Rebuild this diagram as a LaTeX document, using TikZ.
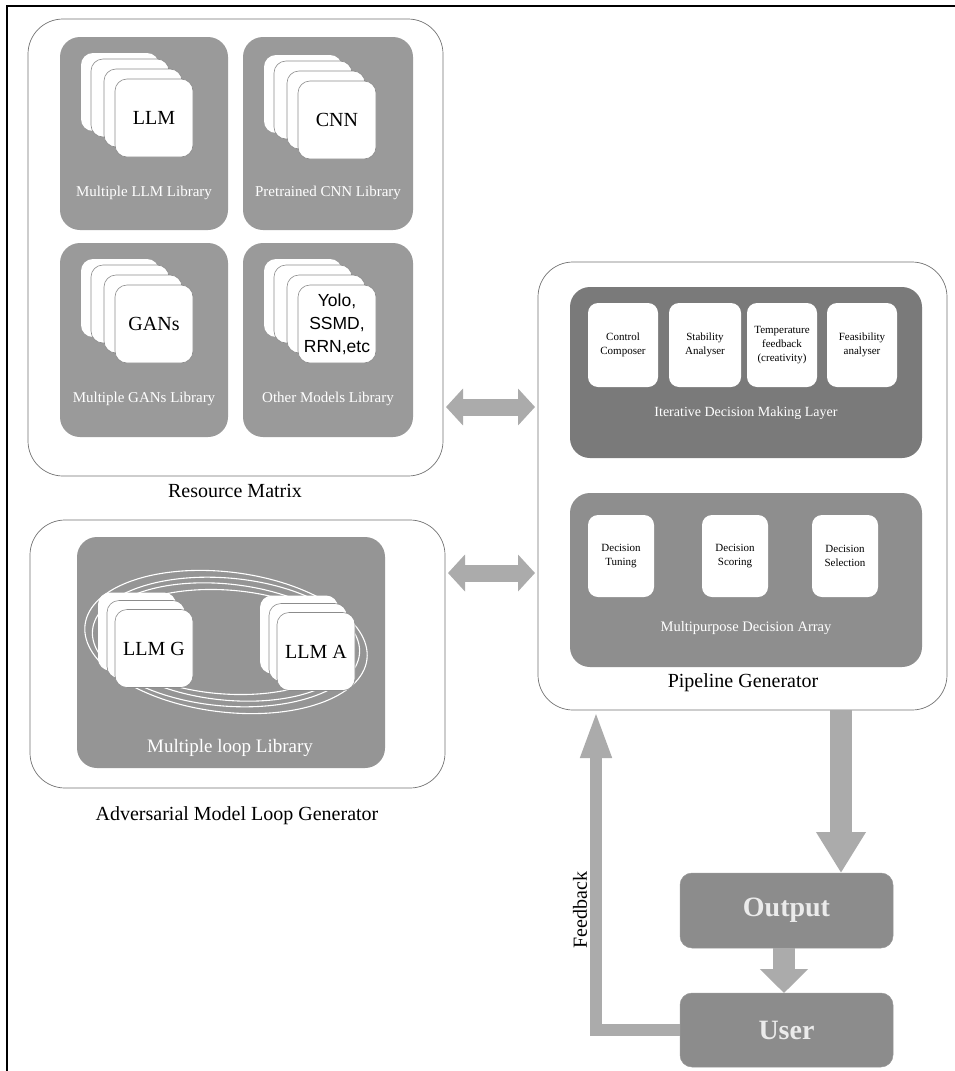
\documentclass[tikz,border=0pt]{standalone}
\usepackage{fontspec}
\setmainfont{Liberation Serif}
\newfontfamily\yolofont{Liberation Sans}
\usetikzlibrary{arrows.meta,calc}
\definecolor{libgray}{HTML}{9A9A9A}
\definecolor{idlgray}{HTML}{7A7A7A}
\definecolor{mdagray}{HTML}{8E8E8E}
\definecolor{advgray}{HTML}{959595}
\definecolor{boxgray}{HTML}{8C8C8C}
\definecolor{arrgray}{HTML}{ABABAB}
\newcommand\fsz[2]{\fontsize{#1}{#2}\selectfont}
\newcommand\cardstack[5]{%
  \node[card, draw=none] (#1-3) at ({#2-34},{#3-26}) {};
  \node[card] (#1-2) at ({#2-24},{#3-20}) {};
  \node[card] (#1-1) at ({#2-11},{#3-10}) {};
  \node[card, font=#5] (#1) at (#2,#3) {#4};
}
\newcommand\advstack[4]{%
  \node[card, draw=none] (#1-2) at ({#2-17},{#3-17}) {};
  \node[card] (#1-1) at ({#2-8},{#3-9}) {};
  \node[card, font=\fsz{20}{24}] (#1) at (#2,#3) {#4};
}
\begin{document}
\begin{tikzpicture}[x=1pt,y=-1pt,
  every node/.style={inner sep=0pt, outer sep=0pt},
  outerbox/.style={draw=black!55, line width=0.7pt, fill=white, rounded corners=35pt},
  libbox/.style={fill=libgray, rounded corners=20pt},
  card/.style={fill=white, draw=black!45, line width=0.6pt, rounded corners=12pt,
    minimum width=78pt, minimum height=78pt, align=center},
  liblabel/.style={text=white, font=\fsz{15}{18}},
  biglabel/.style={text=black, font=\fsz{20}{24}},
  pbox/.style={fill=white, rounded corners=10pt, align=center, font=\fsz{11}{14}},
  obox/.style={fill=boxgray, draw=black!40, line width=0.5pt, rounded corners=12pt,
    minimum width=213pt, text=white!92!black, font=\bfseries\fsz{28}{32}},
  dblarr/.style={draw=arrgray, line width=17pt,
    {Triangle[length=17pt 0, width=36pt 0]}-{Triangle[length=17pt 0, width=36pt 0]},
    shorten <=3pt, shorten >=3pt},
  fatarr/.style={draw=arrgray, line width=22pt, -{Triangle[length=#1 0, width=47pt 0]}},
  fbarr/.style={draw=arrgray, line width=12pt, line join=miter,
    -{Triangle[length=48pt 0, width=28pt 0]}},
  loopline/.style={draw=white, line width=1.1pt}
]
\useasboundingbox (0,0) rectangle (955,1071);
\fill[white] (0,0) rectangle (955,1071);
\draw[line width=1.3pt] (7,1071) -- (7,6) -- (955,6);

% ---------------- Resource Matrix ----------------
\node[outerbox, minimum width=415pt, minimum height=457pt] (rm) at (235.5,247.5) {};
\node[libbox, minimum width=168pt, minimum height=193pt] (llmlib) at (144,133.5) {};
\node[libbox, minimum width=170pt, minimum height=193pt] (cnnlib) at (328,133.5) {};
\node[libbox, minimum width=168pt, minimum height=194pt] (ganlib) at (144,340) {};
\node[libbox, minimum width=170pt, minimum height=194pt] (othlib) at (328,340) {};
\cardstack{llm}{154}{118}{LLM}{\fsz{20}{24}}
\cardstack{cnn}{337}{120}{CNN}{\fsz{20}{24}}
\cardstack{gan}{154}{324}{GANs}{\fsz{20}{24}}
\cardstack{oth}{337}{324}{Yolo,\\SSMD,\\RRN,etc}{\yolofont\fsz{17.5}{23}}
\node[liblabel] (llmlab) at (144,193) {Multiple LLM Library};
\node[liblabel] (cnnlab) at (328,193) {Pretrained CNN Library};
\node[liblabel] (ganlab) at (144,399) {Multiple GANs Library};
\node[liblabel] (othlab) at (328,399) {Other Models Library};
\node[biglabel] (rmlab) at (235,491) {Resource Matrix};

% ---------------- Adversarial Model Loop Generator ----------------
\node[outerbox, minimum width=415pt, minimum height=268pt] (amlg) at (237.5,654) {};
\node[libbox, fill=advgray, minimum width=308pt, minimum height=231pt] (mll) at (231,652.5) {};
\foreach \rx/\ry/\rot in {118/52/-4, 126/58/-6, 134/64/-5, 142/70/-7}
  \draw[loopline, rotate around={\rot:(226,642)}] (226,642) ellipse ({\rx} and {\ry});
\advstack{llmg}{154}{648.5}{LLM G}
\advstack{llma}{316}{651.5}{LLM A}
\node[liblabel, font=\fsz{19}{22}] (mlllab) at (230,748) {Multiple loop Library};
\node[biglabel] (amlglab) at (237,816) {Adversarial Model Loop Generator};

% ---------------- Pipeline Generator ----------------
\node[outerbox, minimum width=409pt, minimum height=448pt] (pg) at (742.5,486) {};
\node[libbox, fill=idlgray, minimum width=352pt, minimum height=171pt] (idl) at (746,372.5) {};
\node[pbox, minimum width=70pt, minimum height=84pt] (cc) at (623,345) {Control\\Composer};
\node[pbox, minimum width=72pt, minimum height=84pt] (sa) at (705,345) {Stability\\Analyser};
\node[pbox, minimum width=70pt, minimum height=84pt] (tf) at (782,345) {Temperature\\feedback\\(creativity)};
\node[pbox, minimum width=70pt, minimum height=84pt] (fa) at (862,345) {Feasibility\\analyser};
\node[liblabel, font=\fsz{14}{17}] (idllab) at (746,413) {Iterative Decision Making Layer};
\node[libbox, fill=mdagray, minimum width=352pt, minimum height=174pt] (mda) at (746,580) {};
\node[pbox, minimum width=66pt, minimum height=82pt] (dt) at (621,556) {Decision\\Tuning};
\node[pbox, minimum width=66pt, minimum height=82pt] (ds) at (735,556) {Decision\\Scoring};
\node[pbox, minimum width=66pt, minimum height=82pt] (dsel) at (845,556) {Decision\\Selection};
\node[liblabel, font=\fsz{14.5}{17}] (mdalab) at (746,628) {Multipurpose Decision Array};
\node[biglabel] (pglab) at (743,683) {Pipeline Generator};

% ---------------- Output / User ----------------
\node[obox, minimum height=75pt] (out) at (786.5,910.5) {Output};
\node[obox, minimum height=74pt] (usr) at (786.5,1030) {User};

% ---------------- connectors ----------------
\coordinate (ya) at (0,407);
\coordinate (yb) at (0,573);
\coordinate (xd) at (841,0);
\coordinate (xu) at (784,0);
\coordinate (xf) at (596,0);
\draw[dblarr] (rm.east |- ya) -- (pg.west |- ya);
\draw[dblarr] (amlg.east |- yb) -- (pg.west |- yb);
\draw[fatarr=41pt] (pg.south -| xd) -- (out.north -| xd);
\draw[fatarr=24pt] (out.south -| xu) -- (usr.north -| xu);
\draw[fbarr] (usr.west) -| (xf |- pg.south);
\node[biglabel, rotate=90] (fblab) at (580,910) {Feedback};
\end{tikzpicture}
\end{document}
